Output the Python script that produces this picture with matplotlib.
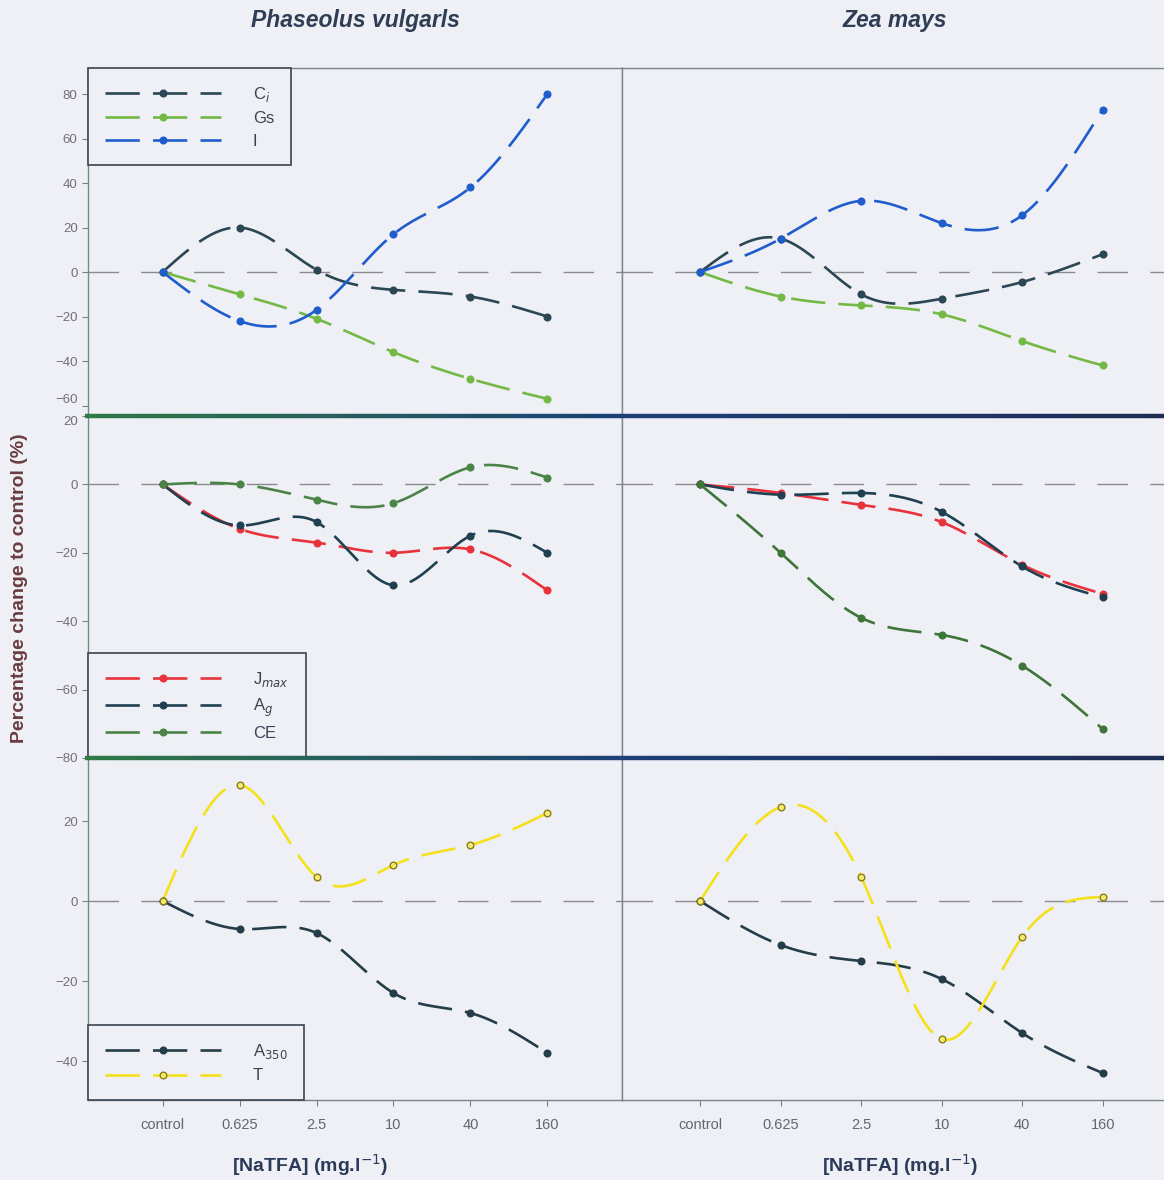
import numpy as np
import matplotlib
matplotlib.use("Agg")
import matplotlib.pyplot as plt
from matplotlib.collections import LineCollection
from matplotlib.colors import LinearSegmentedColormap

plt.rcParams['font.family'] = ['Liberation Sans', 'DejaVu Sans']

doses = ["control", "0.625", "2.5", "10", "40", "160"]

# Phaseolus vulgaris
pv_ci = [0, 20, 1, -8, -11, -20]
pv_gs = [0, -10, -21, -36, -48, -57]
pv_i = [0, -22, -17, 17, 38, 80]
pv_jmax = [0, -13, -17, -20, -19, -31]
pv_a = [0, -12, -11, -29.5, -15, -20]
pv_ce = [0, 0, -4.5, -5.5, 5, 2]
pv_a350 = [0, -7, -8, -23, -28, -38]
pv_t = [0, 29, 6, 9, 14, 22]

# Zea mays
zm_ci = [0, 15, -10, -12, -4.5, 8]
zm_gs = [0, -11, -15, -19, -31, -42]
zm_i = [0, 15, 32, 22, 25.5, 73]
zm_jmax = [0, -2.5, -6, -11, -23.5, -32]
zm_a = [0, -3, -2.5, -8, -24, -33]
zm_ce = [0, -20, -39, -44, -53, -71.5]
zm_a350 = [0, -11, -15, -19.5, -33, -43]
zm_t = [0, 23.5, 6, -34.5, -9, 1]

BG = "#eef0f6"
C_CI = "#2a4753"
C_GS = "#74b946"
C_I = "#1f5ccc"
C_JMAX = "#e8323c"
C_A = "#1f4050"
C_CE = "#4a8446"
C_A350 = "#243d48"
C_T = "#f4e11c"
MS = 4.8


def natural_spline(x, y, n=300):
    x = np.asarray(x, float)
    y = np.asarray(y, float)
    k = len(x)
    h = np.diff(x)
    A = np.zeros((k, k))
    r = np.zeros(k)
    A[0, 0] = A[-1, -1] = 1
    for i in range(1, k - 1):
        A[i, i - 1] = h[i - 1]
        A[i, i] = 2 * (h[i - 1] + h[i])
        A[i, i + 1] = h[i]
        r[i] = 6 * ((y[i + 1] - y[i]) / h[i] - (y[i] - y[i - 1]) / h[i - 1])
    m = np.linalg.solve(A, r)
    xs = np.linspace(x[0], x[-1], n)
    j = np.clip(np.searchsorted(x, xs) - 1, 0, k - 2)
    t = xs - x[j]
    hj = h[j]
    a = (m[j + 1] - m[j]) / (6 * hj)
    b = m[j] / 2
    c = (y[j + 1] - y[j]) / hj - hj * (2 * m[j] + m[j + 1]) / 6
    return xs, y[j] + c * t + b * t ** 2 + a * t ** 3


def series(ax, vals, color, label, open_marker=False):
    x = np.arange(len(vals))
    xs, ys = natural_spline(x, vals)
    ax.plot(xs, ys, color=color, lw=1.9, dashes=(13, 5), dash_capstyle="butt",
            zorder=3)
    kw = dict(mfc="#f3ea70", mec="#8c7c12", mew=1.0) if open_marker else {}
    ax.plot(x, vals, "o", ms=MS, color=color, zorder=4, **kw)
    # legend proxy: dashed line with a marker in the middle
    return ax.plot([], [], color=color, lw=1.9, dashes=(13, 5), marker="o",
                   ms=MS, label=label, **kw)[0]


W, H = 1164, 1180
fig = plt.figure(figsize=(W / 100, H / 100), dpi=100, facecolor=BG)

lx, lw_ = 88 / W, (622 - 88) / W
rx, rw = 622 / W, 0.48
rows = [(1 - 416 / H, (416 - 68) / H), (1 - 758 / H, (758 - 416) / H),
        (1 - 1100 / H, (1100 - 758) / H)]
ylims = [(-64.7, 91.7), (-80, 20), (-49.75, 35.75)]
yticks = [np.arange(-60, 81, 20), np.arange(-80, 21, 20), np.arange(-40, 21, 20)]

axes = []
for r, (b, h) in enumerate(rows):
    pair = []
    for c, (x0, w) in enumerate([(lx, lw_), (rx, rw)]):
        ax = fig.add_axes([x0, b, w, h], facecolor=BG)
        ax.set_xlim(-0.97, 5.97)
        ax.set_ylim(*ylims[r])
        ax.axhline(0, color="#8a8a90", lw=1.0, dashes=(22, 16), zorder=1)
        for s in ax.spines.values():
            s.set_color("#7c8488")
            s.set_linewidth(1.0)
        ax.spines["right"].set_visible(c == 0)
        ax.spines["top"].set_visible(r == 0)
        ax.spines["bottom"].set_visible(r == 2)
        if c == 0:
            ax.spines["left"].set_color("#6f8c7e")
            ax.set_yticks(yticks[r])
            ax.tick_params(axis="y", direction="out", length=4, width=0.8,
                           colors="#7a7f86", labelsize=9.5, labelcolor="#707076")
        else:
            ax.set_yticks([])
        if r == 2:
            ax.set_xticks(range(len(doses)))
            ax.set_xticklabels(doses)
            ax.tick_params(axis="x", direction="out", length=4, width=0.8,
                           colors="#7a7f86", labelsize=10.5, labelcolor="#64666c", pad=9)
        else:
            ax.set_xticks([])
        pair.append(ax)
    axes.append(pair)

# the -60 and 20 labels sit almost on top of each other at the row boundary
axes[0][0].get_yticklabels()[0].set_verticalalignment("bottom")
axes[1][0].get_yticklabels()[-1].set_verticalalignment("top")

# top row: Ci, Gs, I
h1 = [series(axes[0][0], pv_ci, C_CI, "C$_i$"),
      series(axes[0][0], pv_gs, C_GS, "Gs"),
      series(axes[0][0], pv_i, C_I, "I")]
series(axes[0][1], zm_ci, C_CI, "C$_i$")
series(axes[0][1], zm_gs, C_GS, "Gs")
series(axes[0][1], zm_i, C_I, "I")

# middle row: Jmax, A, CE
h2 = [series(axes[1][0], pv_jmax, C_JMAX, "J$_{max}$"),
      series(axes[1][0], pv_a, C_A, "A$_{g}$"),
      series(axes[1][0], pv_ce, C_CE, "CE")]
series(axes[1][1], zm_jmax, C_JMAX, "J$_{max}$")
series(axes[1][1], zm_a, C_A, "A$_{g}$")
series(axes[1][1], zm_ce, "#3e7538", "CE")

# bottom row: A350, T
h3 = [series(axes[2][0], pv_a350, C_A350, "A$_{350}$"),
      series(axes[2][0], pv_t, C_T, "T", open_marker=True)]
series(axes[2][1], zm_a350, C_A350, "A$_{350}$")
series(axes[2][1], zm_t, C_T, "T", open_marker=True)

legend_kw = dict(fontsize=12, handlelength=7.0, handletextpad=1.9, numpoints=1,
                 labelspacing=0.45, borderpad=1.0, fancybox=False, framealpha=1,
                 facecolor=BG, edgecolor="#3a4450", borderaxespad=0)
for ax, hs, loc in [(axes[0][0], h1, "upper left"), (axes[1][0], h2, "lower left"),
                    (axes[2][0], h3, "lower left")]:
    leg = ax.legend(handles=hs, loc=loc, **legend_kw)
    leg.get_frame().set_linewidth(1.2)
    for t in leg.get_texts():
        t.set_color("#3a4252")

# thick separators between rows
cmap = LinearSegmentedColormap.from_list("sep", ["#2f7a45", "#1c3f78", "#1e2d55"])
for yp in (416, 758):
    xs = np.linspace(85, W, 200)
    pts = np.array([xs / W, np.full_like(xs, 1 - yp / H)]).T.reshape(-1, 1, 2)
    segs = np.concatenate([pts[:-1], pts[1:]], axis=1)
    lc = LineCollection(segs, cmap=cmap, linewidths=3.2, transform=fig.transFigure,
                        zorder=10)
    lc.set_array(np.linspace(0, 1, len(segs)))
    fig.add_artist(lc)

fig.text(355 / W, 1 - 21 / H, "Phaseolus vulgarls", ha="center", va="center",
         fontsize=16.5, fontweight="bold", style="italic", color="#2f3d55")
fig.text(895 / W, 1 - 21 / H, "Zea mays", ha="center", va="center",
         fontsize=16.5, fontweight="bold", style="italic", color="#2f3d55")
fig.text(20 / W, 1 - 588 / H, "Percentage change to control (%)", rotation=90,
         ha="center", va="center", fontsize=14, fontweight="bold", color="#6a3c40")
for xc in (310, 900):
    fig.text(xc / W, 1 - 1165 / H, "[NaTFA] (mg.l$^{-1}$)", ha="center", va="center",
             fontsize=14, fontweight="bold", color="#2b3a58")

fig.savefig("out.png", dpi=100, facecolor=BG)
